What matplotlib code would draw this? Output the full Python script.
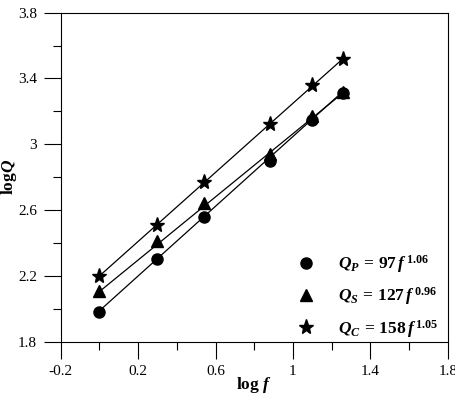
import numpy as np
import matplotlib
matplotlib.use("Agg")
import matplotlib.pyplot as plt
from matplotlib.ticker import MultipleLocator

plt.rcParams['font.family'] = 'Liberation Serif'
plt.rcParams['mathtext.fontset'] = 'custom'
plt.rcParams['mathtext.rm'] = 'Liberation Serif:bold'
plt.rcParams['mathtext.bf'] = 'Liberation Serif:bold'
plt.rcParams['mathtext.it'] = 'Liberation Serif:italic:bold'

# data
log_f = [0.0, 0.30, 0.54, 0.88, 1.10, 1.26]
logQ_P = [1.98, 2.30, 2.56, 2.90, 3.15, 3.31]
logQ_S = [2.11, 2.41, 2.64, 2.94, 3.17, 3.32]
logQ_C = [2.20, 2.51, 2.77, 3.12, 3.36, 3.52]

# fitted relations Q = Q0 f^n
Q0 = [97, 127, 158]
n_exp = [1.06, 0.96, 1.05]
names = ['P', 'S', 'C']
markers = ['o', '^', '*']
msizes = [8, 8, 11]
series = [logQ_P, logQ_S, logQ_C]

fig = plt.figure(figsize=(4.56, 3.94), dpi=100)
ax = fig.add_axes([0.133, 0.133, 0.849, 0.835])

xf = np.array([log_f[0], log_f[-1]])
for q0, n, nm, mk, ms, ys in zip(Q0, n_exp, names, markers, msizes, series):
    ax.plot(xf, np.log10(q0) + n * xf, color='black', linewidth=0.9)
    lab = r'$Q_{%s}\,=\,%d\,f^{\,%.2f}$' % (nm, q0, n)
    ax.plot(log_f, ys, linestyle='none', marker=mk, markersize=ms,
            color='black', label=lab)

ax.set_xlim(-0.2, 1.8)
ax.set_ylim(1.8, 3.8)
ax.xaxis.set_minor_locator(MultipleLocator(0.2))
ax.yaxis.set_minor_locator(MultipleLocator(0.2))
ax.set_xticks([-0.2, 0.2, 0.6, 1.0, 1.4, 1.8])
ax.set_xticklabels(['-0.2', '0.2', '0.6', '1', '1.4', '1.8'])
ax.set_yticks([1.8, 2.2, 2.6, 3.0, 3.4, 3.8])
ax.set_yticklabels(['1.8', '2.2', '2.6', '3', '3.4', '3.8'])
ax.tick_params(which='major', direction='out', length=12, width=0.8, labelsize=11, pad=5)
ax.tick_params(which='minor', direction='out', length=6, width=0.8)
for s in ax.spines.values():
    s.set_linewidth(0.8)

ax.set_xlabel(r'log $f$', fontsize=12.5, fontweight='bold')
ax.set_ylabel(r'log$Q$', fontsize=12.5, fontweight='bold')
ax.xaxis.set_label_coords(0.5, -0.102)
ax.yaxis.set_label_coords(-0.108, 0.5)

leg = ax.legend(loc='lower right', bbox_to_anchor=(0.993, -0.015), frameon=False,
                fontsize=12.5, handlelength=1.0, handletextpad=1.3,
                labelspacing=0.6, borderaxespad=0.0)

fig.savefig('out.png', dpi=100)
